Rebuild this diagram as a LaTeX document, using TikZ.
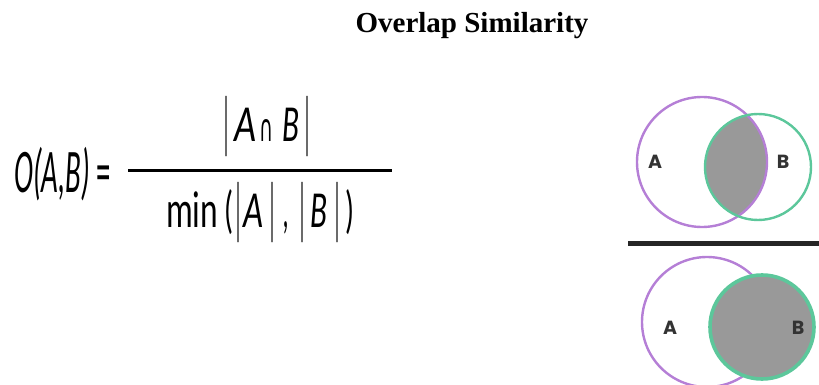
\documentclass[tikz,border=0pt]{standalone}
\usepackage{fontspec}
\usepackage{graphicx}
\setmainfont{Liberation Serif}
\newfontfamily\formfont{Carlito}
\newfontfamily\vennfont{Poppins}
\newfontfamily\symfont{DejaVu Sans}
\definecolor{vpurple}{HTML}{B57FD6}
\definecolor{vgreen}{HTML}{5CC79B}
\definecolor{vgray}{HTML}{999999}
\definecolor{vlabel}{HTML}{333333}
\newcommand{\gw}[2]{\resizebox{#1pt}{\height}{#2}}
\begin{document}
\begin{tikzpicture}[x=1pt,y=-1pt,
  titlestyle/.style={inner sep=0pt,font=\fontsize{29}{29}\selectfont\bfseries},
  glyph/.style={inner sep=0pt,anchor=base,font=\formfont\fontsize{52}{52}\selectfont},
  barglyph/.style={inner sep=0pt,anchor=base,font=\formfont\fontsize{68}{68}\selectfont},
  capglyph/.style={inner sep=0pt,anchor=base,font=\symfont\fontsize{38}{38}\selectfont},
  lhsstyle/.style={inner sep=0pt,font=\formfont\fontsize{62}{62}\selectfont},
  vennlabel/.style={inner sep=0pt,text=vlabel,font=\vennfont\fontsize{19}{19}\selectfont\bfseries},
  circA/.style={draw=vpurple,line width=2.4pt},
  circB/.style={draw=vgreen,line width=2.4pt},
  circBfull/.style={draw=vgreen,fill=vgray,line width=3.6pt},
  rulestyle/.style={line width=3pt,draw=black},
  seprule/.style={line width=5pt,draw=black!85}]
\useasboundingbox (0,0) rectangle (819,385);
% title
\node[titlestyle,anchor=base] (title) at (472,33) {Overlap Similarity};
% formula left side
\node[lhsstyle,anchor=base west] (lhs) at (14,192) {\resizebox{97pt}{\height}{\itshape O(A,B)\upshape\ =}};
\coordinate (fl) at (128,170);
\coordinate (fr) at (392,170);
\draw[rulestyle] (fl) -- (fr);
% numerator
\node[barglyph] (nb1) at (226.5,146) {\gw{8}{|}};
\node[glyph] (nA) at (245,142) {\gw{22}{\itshape A}};
\node[capglyph] (ncap) at (266,142) {\gw{14}{∩}};
\node[glyph] (nB) at (290.5,142) {\gw{17}{\itshape B}};
\node[barglyph] (nb2) at (307,146) {\gw{8}{|}};
% denominator
\node[glyph] (dmin) at (192,227) {\gw{52}{min}};
\node[glyph] (dlp) at (228.5,227) {\gw{9}{(}};
\node[barglyph] (db1) at (238,231) {\gw{8}{|}};
\node[glyph] (dA) at (253.5,227) {\gw{20}{\itshape A}};
\node[barglyph] (db2) at (272,231) {\gw{8}{|}};
\node[glyph] (dcomma) at (286.5,227) {\gw{6}{\itshape ,}};
\node[barglyph] (db3) at (302,231) {\gw{8}{|}};
\node[glyph] (dB) at (318.5,227) {\gw{17}{\itshape B}};
\node[barglyph] (db4) at (337,231) {\gw{8}{|}};
\node[glyph] (drp) at (350,227) {\gw{9}{)}};
% top venn
\coordinate (ca1) at (702,162);
\coordinate (cb1) at (758,167);
\begin{scope}
  \clip (cb1) circle (53);
  \fill[vgray] (ca1) circle (65);
\end{scope}
\draw[circA] (ca1) circle (65);
\draw[circB] (cb1) circle (53);
\node[vennlabel] (la1) at (655,162) {A};
\node[vennlabel] (lb1) at (783,162) {B};
% separator
\coordinate (sl) at (628,243);
\coordinate (sr) at (819,243);
\draw[seprule] (sl) -- (sr);
% bottom venn
\coordinate (ca2) at (707,322);
\coordinate (cb2) at (762,327);
\draw[circA] (ca2) circle (65);
\draw[circBfull] (cb2) circle (52);
\node[vennlabel] (la2) at (670,328) {A};
\node[vennlabel] (lb2) at (798,328) {B};
\end{tikzpicture}
\end{document}
